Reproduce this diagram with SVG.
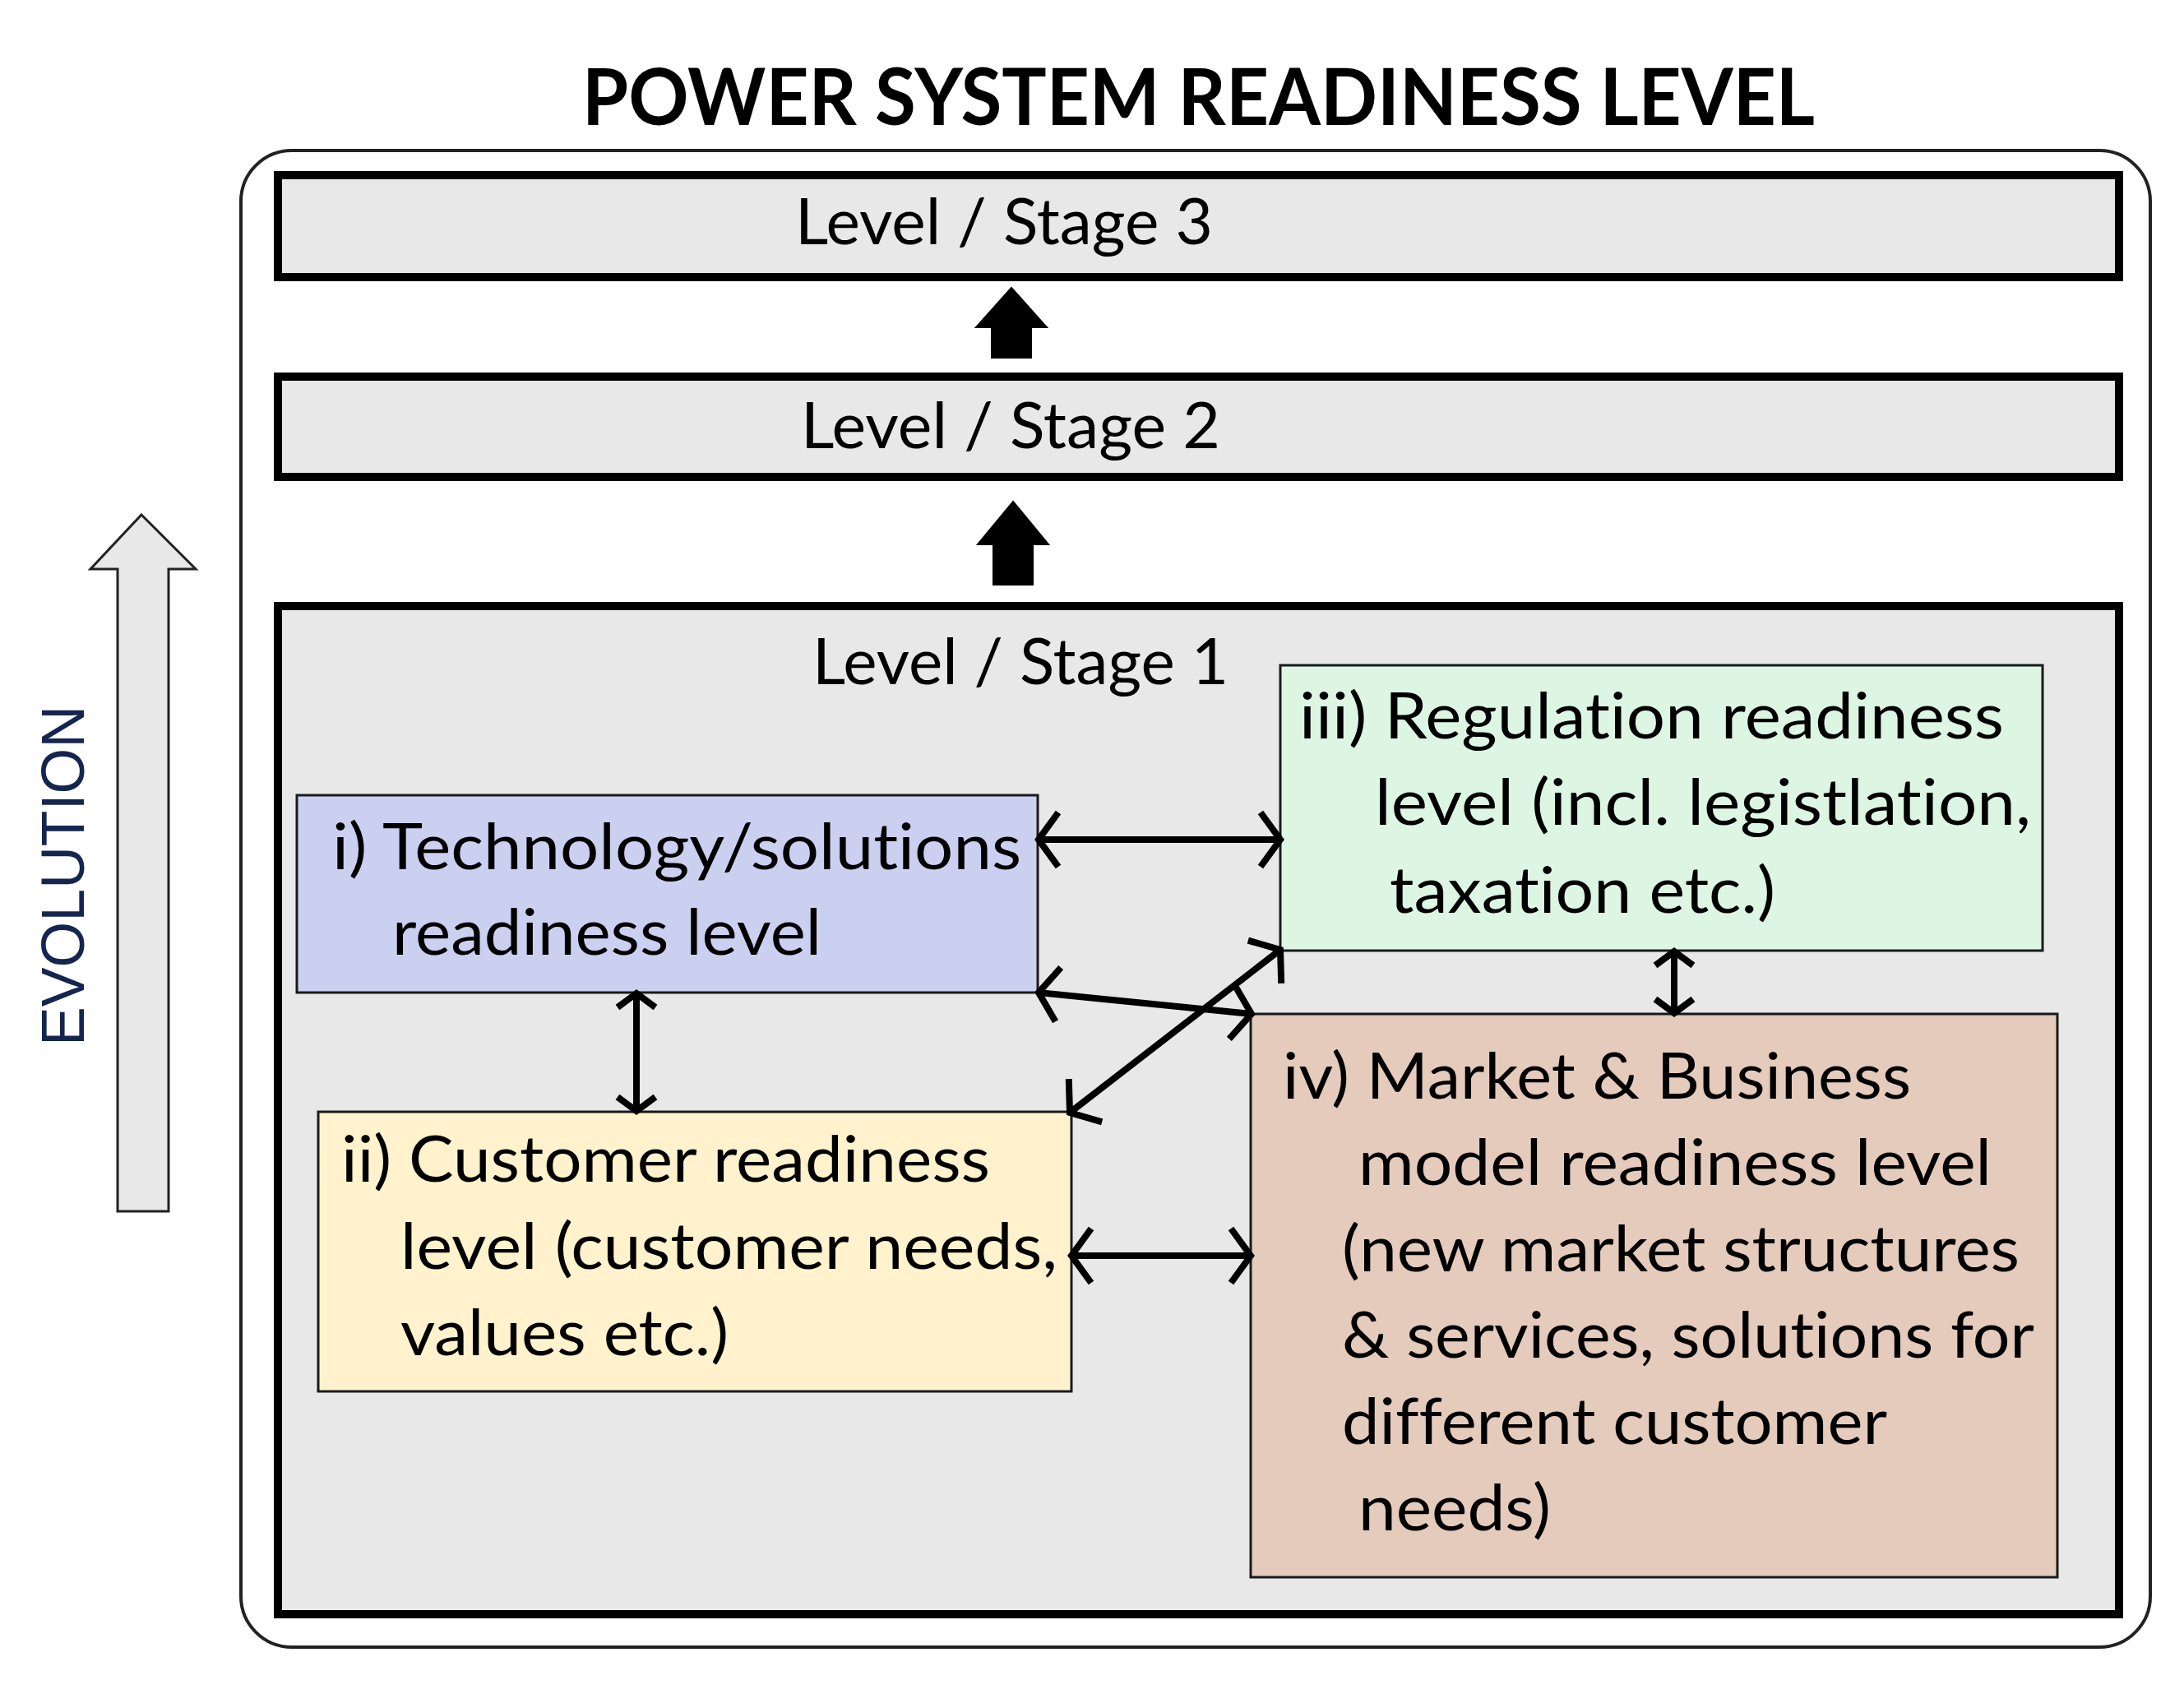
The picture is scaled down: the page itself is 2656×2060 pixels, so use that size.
<svg xmlns="http://www.w3.org/2000/svg" width="2656" height="2060" viewBox="0 0 2656 2060">
<style>
.t{font-family:Lato,"Open Sans","Liberation Sans",sans-serif;font-size:77px;fill:#000;font-variant-ligatures:none;font-feature-settings:"liga" 0,"clig" 0,"dlig" 0,"calt" 0}
.title{font-family:Lato,"Open Sans","Liberation Sans",sans-serif;font-size:95px;font-weight:bold;fill:#000;font-variant-ligatures:none;font-feature-settings:"liga" 0,"clig" 0}
.lvl{fill:#e8e8e8;stroke:#000;stroke-width:10}
.box{stroke:#1a1a1a;stroke-width:3}
.conn{stroke:#000;stroke-width:8;fill:none}
.big{marker-start:url(#ahb);marker-end:url(#ahb)}
.small{marker-start:url(#ahs);marker-end:url(#ahs)}
.blk{fill:#000;stroke:#000;stroke-width:2}
</style>
<defs>
<marker id="ahb" markerUnits="userSpaceOnUse" viewBox="-32 -40 44 80" refX="0" refY="0" markerWidth="44" markerHeight="80" orient="auto-start-reverse" overflow="visible"><path d="M-24,-33 L0,0 L-24,33" fill="none" stroke="#000" stroke-width="8"/></marker>
<marker id="ahs" markerUnits="userSpaceOnUse" viewBox="-24 -30 34 60" refX="0" refY="0" markerWidth="34" markerHeight="60" orient="auto-start-reverse" overflow="visible"><path d="M-17,-23 L0,0 L-17,23" fill="none" stroke="#000" stroke-width="8"/></marker>
</defs>

<text class="title" x="708" y="152" textLength="1499" lengthAdjust="spacingAndGlyphs">POWER SYSTEM READINESS LEVEL</text>

<rect x="293" y="183" width="2322" height="1820" rx="62" ry="62" fill="#fff" stroke="#222" stroke-width="4"/>

<g id="evolution">
<polygon points="172,626 238,692 205,692 205,1473 143,1473 143,692 110,692" fill="#e8e8e8" stroke="#222" stroke-width="3"/>
<text transform="translate(102,1065) rotate(-90)" text-anchor="middle" font-family="'Liberation Sans',Arial,sans-serif" font-size="74" fill="#14254f" textLength="414" lengthAdjust="spacingAndGlyphs">EVOLUTION</text>
</g>

<g id="level3">
<rect class="lvl" x="338" y="213" width="2239" height="124"/>
<text class="t" x="967" y="297" textLength="508" lengthAdjust="spacingAndGlyphs">Level / Stage 3</text>
</g>

<g id="level2">
<rect class="lvl" x="338" y="458" width="2239" height="122"/>
<text class="t" x="974" y="545" textLength="510" lengthAdjust="spacingAndGlyphs">Level / Stage 2</text>
</g>

<g id="level1">
<rect class="lvl" x="338" y="737" width="2239" height="1226"/>
<text class="t" x="988" y="832" textLength="506" lengthAdjust="spacingAndGlyphs">Level / Stage 1</text>
</g>

<g id="tech">
<rect class="box" x="361" y="967" width="901" height="240" fill="#ccd0f0"/>
<text class="t" x="404" y="1057" textLength="838" lengthAdjust="spacingAndGlyphs">i) Technology/solutions</text>
<text class="t" x="477" y="1161" textLength="522" lengthAdjust="spacingAndGlyphs">readiness level</text>
</g>

<g id="customer">
<rect class="box" x="387" y="1352" width="916" height="340" fill="#fff2cc"/>
<text class="t" x="415" y="1437" textLength="789" lengthAdjust="spacingAndGlyphs">ii) Customer readiness</text>
<text class="t" x="487" y="1543" textLength="799" lengthAdjust="spacingAndGlyphs">level (customer needs,</text>
<text class="t" x="487" y="1648" textLength="399" lengthAdjust="spacingAndGlyphs">values etc.)</text>
</g>

<g id="regulation">
<rect class="box" x="1557" y="809" width="927" height="347" fill="#ddf6e4"/>
<text class="t" x="1580" y="898" textLength="857" lengthAdjust="spacingAndGlyphs">iii) Regulation readiness</text>
<text class="t" x="1672" y="1003" textLength="798" lengthAdjust="spacingAndGlyphs">level (incl. legistlation,</text>
<text class="t" x="1690" y="1110" textLength="469" lengthAdjust="spacingAndGlyphs">taxation etc.)</text>
</g>

<g id="market">
<rect class="box" x="1521" y="1233" width="981" height="685" fill="#e5cbbc"/>
<text class="t" x="1560" y="1336" textLength="764" lengthAdjust="spacingAndGlyphs">iv) Market &amp; Business</text>
<text class="t" x="1652" y="1441" textLength="770" lengthAdjust="spacingAndGlyphs">model readiness level</text>
<text class="t" x="1632" y="1546" textLength="824" lengthAdjust="spacingAndGlyphs">(new market structures</text>
<text class="t" x="1632" y="1651" textLength="842" lengthAdjust="spacingAndGlyphs">&amp; services, solutions for</text>
<text class="t" x="1632" y="1756" textLength="663" lengthAdjust="spacingAndGlyphs">different customer</text>
<text class="t" x="1652" y="1861" textLength="234" lengthAdjust="spacingAndGlyphs">needs)</text>
</g>

<g id="connectors">
<polygon class="blk" points="1230,350 1273,398 1254,398 1254,435 1206,435 1206,398 1187,398"/>
<polygon class="blk" points="1232,610 1275,662 1256,662 1256,711 1208,711 1208,662 1189,662"/>
<path class="conn big" d="M1263,1021 L1557,1021"/>
<path class="conn big" d="M1263,1207 L1522,1233"/>
<path class="conn big" d="M1301,1353 L1557,1155"/>
<path class="conn big" d="M1303,1527 L1521,1527"/>
<path class="conn small" d="M774,1208 L774,1351"/>
<path class="conn small" d="M2036,1157 L2036,1232"/>
</g>
</svg>
